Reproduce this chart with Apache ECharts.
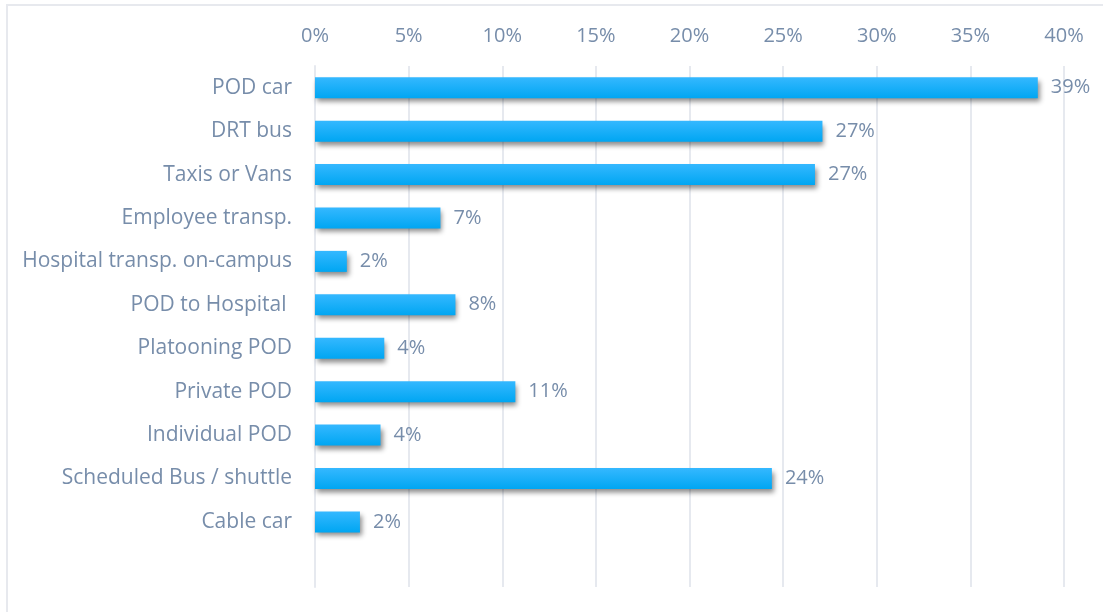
<!DOCTYPE html>
<html>
<head>
<meta charset="utf-8">
<script src="https://cdn.jsdelivr.net/npm/echarts@6/dist/echarts.min.js"></script>
<style>
  html, body { margin: 0; padding: 0; background: #ffffff; }
  #chart { width: 1103px; height: 612px; }
</style>
</head>
<body>
<div id="chart"></div>
<script>
// Transport modes and their share of responses
const categories = [
  'POD car',
  'DRT bus',
  'Taxis or Vans',
  'Employee transp.',
  'Hospital transp. on-campus',
  'POD to Hospital ',
  'Platooning POD',
  'Private POD',
  'Individual POD',
  'Scheduled Bus / shuttle',
  'Cable car'
];
const shares = [0.386, 0.271, 0.267, 0.067, 0.017, 0.075, 0.037, 0.107, 0.035, 0.244, 0.024];
const tickValues = [0, 0.05, 0.10, 0.15, 0.20, 0.25, 0.30, 0.35, 0.40];

const textColor = '#778daa';
const fontFamily = '"Open Sans", "Noto Sans", sans-serif';
const fontSize = 20;

const chart = echarts.init(document.getElementById('chart'), null, { renderer: 'canvas' });
chart.setOption({
  backgroundColor: '#ffffff',
  animation: false,
  graphic: [{
    type: 'rect',
    shape: { x: 7, y: 5, width: 1120, height: 640 },
    style: { fill: 'none', stroke: '#e7e9ee', lineWidth: 2 },
    silent: true,
    z: -1
  }],
  grid: { left: 315, right: 39, top: 66, bottom: 25, containLabel: false },
  xAxis: {
    type: 'value',
    position: 'top',
    min: tickValues[0],
    max: tickValues[tickValues.length - 1],
    interval: 0.05,
    axisLine: { show: false },
    axisTick: { show: false },
    splitLine: { show: true, lineStyle: { color: '#e6e9ef', width: 2 } },
    axisLabel: {
      color: textColor,
      fontFamily: fontFamily,
      fontSize: fontSize,
      margin: 20,
      formatter: v => Math.round(v * 100) + '%'
    }
  },
  yAxis: {
    type: 'category',
    inverse: true,
    data: categories,
    max: categories.length,
    axisLine: { show: true, lineStyle: { color: '#e6e9ef', width: 2 } },
    axisTick: { show: false },
    axisLabel: {
      color: textColor,
      fontFamily: fontFamily,
      fontSize: 21,
      margin: 23
    }
  },
  series: [{
    type: 'bar',
    data: shares,
    barWidth: 21,
    itemStyle: {
      color: new echarts.graphic.LinearGradient(0, 0, 0, 1, [
        { offset: 0, color: '#35b8ff' },
        { offset: 1, color: '#00a6f2' }
      ]),
      shadowColor: 'rgba(0,0,0,0.45)',
      shadowBlur: 5,
      shadowOffsetX: 2,
      shadowOffsetY: 4
    },
    label: {
      show: true,
      position: 'right',
      distance: 13,
      color: textColor,
      fontFamily: fontFamily,
      fontSize: fontSize,
      formatter: p => Math.round(p.value * 100) + '%'
    }
  }]
});
</script>
</body>
</html>
